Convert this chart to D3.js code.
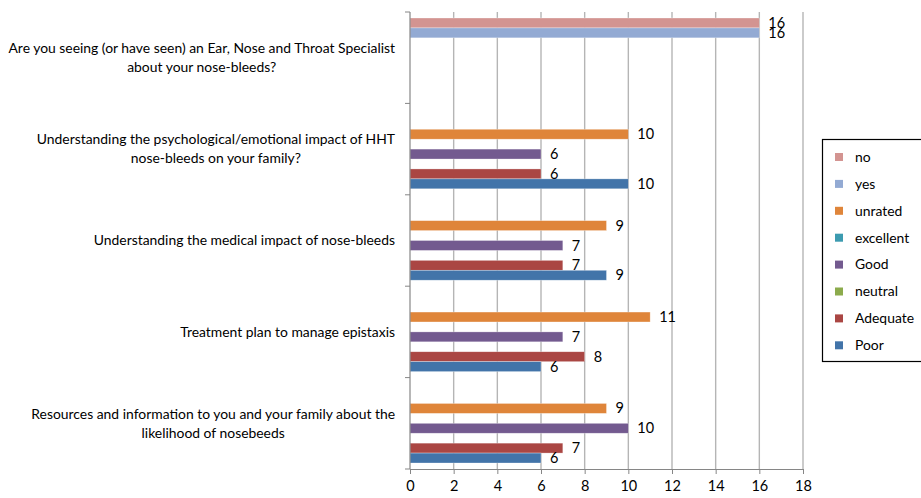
<!DOCTYPE html>
<html>
<head>
<meta charset="utf-8">
<script src="https://cdn.jsdelivr.net/npm/d3@7"></script>
<style>
  body { margin: 0; background: #fff; }
  svg { display: block; font-family: Lato, "Open Sans", sans-serif; }
</style>
</head>
<body>
<svg></svg>
<script>
const width = 921, height = 498;

// categories, top to bottom
const categories = [
  ["Are you seeing (or have seen) an Ear, Nose and Throat Specialist", "about your nose-bleeds?"],
  ["Understanding the psychological/emotional impact of HHT", "nose-bleeds on your family?"],
  ["Understanding the medical impact of nose-bleeds"],
  ["Treatment plan to manage epistaxis"],
  ["Resources and information to you and your family about the", "likelihood of nosebeeds"]
];

const seriesNames = ["no", "yes", "unrated", "excellent", "Good", "neutral", "Adequate", "Poor"];
const seriesColors = ["#d39491", "#93aad3", "#df853a", "#3c9bb0", "#735a8f", "#8cab4c", "#aa4643", "#4274a9"];

// values per series, one per category
const no = [16, null, null, null, null];
const yes = [16, null, null, null, null];
const unrated = [null, 10, 9, 11, 9];
const excellent = [null, null, null, null, null];
const good = [null, 6, 7, 7, 10];
const neutral = [null, null, null, null, null];
const adequate = [null, 6, 7, 8, 7];
const poor = [null, 10, 9, 6, 6];

const xTicks = [0, 2, 4, 6, 8, 10, 12, 14, 16, 18];

const seriesValues = [no, yes, unrated, excellent, good, neutral, adequate, poor];

const svg = d3.select("svg")
    .attr("width", width)
    .attr("height", height);

const plot = { left: 410, right: 803, top: 12, bottom: 469 };

const x = d3.scaleLinear().domain([0, 18]).range([plot.left, plot.right]);
const y = d3.scaleBand().domain(d3.range(categories.length)).range([plot.top, plot.bottom]);
const ySeries = d3.scaleBand().domain(seriesNames).range([6, y.bandwidth() - 6]);

// gridlines
svg.append("g")
    .selectAll("line")
    .data(xTicks.filter(d => d > 0))
    .enter().append("line")
    .attr("x1", d => x(d)).attr("x2", d => x(d))
    .attr("y1", plot.top).attr("y2", plot.bottom)
    .attr("stroke", "#b5b5b5")
    .attr("stroke-width", 1.4);

// bars
const rows = [];
seriesValues.forEach((vals, si) => {
    vals.forEach((v, ci) => {
        if (v != null) rows.push({ series: seriesNames[si], color: seriesColors[si], cat: ci, value: v });
    });
});

svg.append("g")
    .selectAll("rect")
    .data(rows)
    .enter().append("rect")
    .attr("x", x(0))
    .attr("y", d => y(d.cat) + ySeries(d.series))
    .attr("width", d => x(d.value) - x(0))
    .attr("height", ySeries.bandwidth())
    .attr("fill", d => d.color)
    .attr("stroke", "#ffffff")
    .attr("stroke-opacity", 0.5)
    .attr("stroke-width", 0.6);

// value labels
svg.append("g")
    .selectAll("text")
    .data(rows)
    .enter().append("text")
    .attr("x", d => x(d.value) + 9)
    .attr("y", d => y(d.cat) + ySeries(d.series) + ySeries.bandwidth() / 2)
    .attr("dy", "0.35em")
    .attr("font-size", 14.5)
    .attr("fill", "#000")
    .text(d => d.value);

// x axis
const xAxis = svg.append("g")
    .attr("transform", `translate(0,${plot.bottom})`)
    .call(d3.axisBottom(x).tickValues(xTicks).tickSize(5).tickSizeOuter(0));
xAxis.select(".domain").attr("stroke", "#868686").attr("stroke-width", 1.2);
xAxis.selectAll(".tick line").attr("stroke", "#868686");
xAxis.selectAll(".tick text")
    .attr("font-size", 14.5)
    .attr("font-family", "Lato, 'Open Sans', sans-serif")
    .attr("fill", "#000")
    .attr("y", 12);

// y axis line with category boundary ticks
svg.append("line")
    .attr("x1", plot.left).attr("x2", plot.left)
    .attr("y1", plot.top).attr("y2", plot.bottom)
    .attr("stroke", "#868686").attr("stroke-width", 1.2);
svg.append("g")
    .selectAll("line")
    .data(d3.range(categories.length + 1))
    .enter().append("line")
    .attr("x1", plot.left - 5).attr("x2", plot.left)
    .attr("y1", d => plot.top + d * y.step())
    .attr("y2", d => plot.top + d * y.step())
    .attr("stroke", "#868686");

// category labels: block right-aligned, lines centred within block
const labelRight = 395, lineH = 19;
categories.forEach((lines, ci) => {
    const g = svg.append("g");
    const cy = y(ci) + y.bandwidth() / 2;
    const texts = lines.map((l, li) => g.append("text")
        .attr("font-size", 13.9)
        .attr("fill", "#000")
        .attr("text-anchor", "middle")
        .attr("y", cy + (li - (lines.length - 1) / 2) * lineH)
        .attr("dy", "0.35em")
        .text(l));
    const maxW = d3.max(texts, t => t.node().getComputedTextLength());
    texts.forEach(t => t.attr("x", labelRight - maxW / 2));
});

// legend
const legend = svg.append("g");
legend.append("rect")
    .attr("x", 822.5).attr("y", 139.5)
    .attr("width", 110).attr("height", 222)
    .attr("fill", "#fff")
    .attr("stroke", "#000").attr("stroke-width", 1.2);
seriesNames.forEach((name, i) => {
    const ly = 157 + i * 26.9;
    legend.append("rect")
        .attr("x", 835).attr("y", ly - 4)
        .attr("width", 8).attr("height", 8)
        .attr("fill", seriesColors[i]);
    legend.append("text")
        .attr("x", 855).attr("y", ly)
        .attr("dy", "0.35em")
        .attr("font-size", 13.9)
        .text(name);
});
</script>
</body>
</html>
